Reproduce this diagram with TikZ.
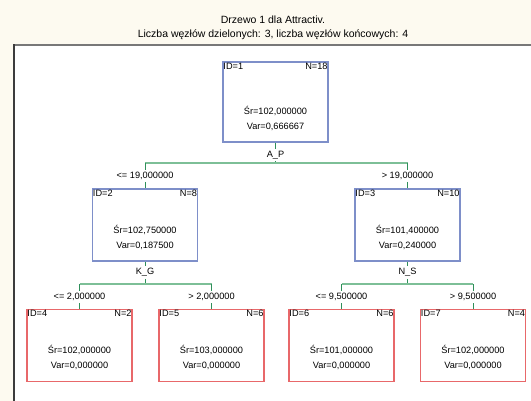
\documentclass[tikz,border=0pt]{standalone}
\usepackage{fontspec}
\setmainfont{Liberation Sans}
\definecolor{bgc}{HTML}{FDFAF0}
\definecolor{splitc}{HTML}{7E8FC9}
\definecolor{leafc}{HTML}{E8686A}
\definecolor{barc}{HTML}{7DBF97}
\definecolor{tickc}{HTML}{2F8F5A}
\newcommand\tnode[9]{%
  \node[#5, minimum height=#4pt] (#1) at (#2,#3) {};
  \node[anchor=north west] (#1id) at ([shift={(1pt,-1.5pt)}]#1.north west) {ID=#6};
  \node[anchor=north east] (#1n) at ([shift={(-1pt,-1.5pt)}]#1.north east) {N=#7};
  \node (#1sr) at ([yshift=32pt]#1.south) {Śr=#8};
  \node (#1var) at ([yshift=16pt]#1.south) {Var=#9};
}
\begin{document}
\begin{tikzpicture}[x=1pt,y=-1pt,
  every node/.style={font=\fontsize{9.2}{10}\selectfont, inner sep=0pt},
  titletext/.style={font=\fontsize{10.5}{12}\selectfont},
  splitbox/.style={draw=splitc, line width=1.5pt, minimum width=105pt},
  leafbox/.style={draw=leafc, line width=1.5pt, minimum width=105pt},
  cond/.style={inner sep=2pt},
  tick/.style={draw=tickc, line width=0.9pt},
  bar/.style={draw=barc, line width=2pt}]
\fill[bgc] (0,0) rectangle (531,401);
\useasboundingbox (0,0) rectangle (531,401);
\fill[white] (14,45) rectangle (531,401);
\draw[line width=1.6pt, draw={rgb,255:red,120;green,120;blue,120}] (14,45) -- (531,45);
\draw[line width=1.8pt, draw={rgb,255:red,60;green,60;blue,60}] (14,401) -- (14,44.2);

\node[titletext] (t1) at (273,19.5) {Drzewo 1 dla Attractiv.};
\node[titletext] (t2) at (273,35) {Liczba węzłów dzielonych: 3, liczba węzłów końcowych: 4};

\tnode{n1}{275.5}{102}{80}{splitbox}{1}{18}{102,000000}{0,666667}
\tnode{n2}{145}{225}{72}{splitbox}{2}{8}{102,750000}{0,187500}
\tnode{n3}{407.5}{225}{72}{splitbox}{3}{10}{101,400000}{0,240000}
\tnode{n4}{79.5}{345.5}{72}{leafbox}{4}{2}{102,000000}{0,000000}
\tnode{n5}{211.5}{345.5}{72}{leafbox}{5}{6}{103,000000}{0,000000}
\tnode{n6}{341.5}{345.5}{72}{leafbox}{6}{6}{101,000000}{0,000000}
\tnode{n7}{473}{345.5}{72}{leafbox}{7}{4}{102,000000}{0,000000}

% split 1
\node[cond] (ap) at (275.5,155) {A\_P};
\coordinate (b1) at (275.5,163);
\coordinate (b1l) at (145,163);
\coordinate (b1r) at (407.5,163);
\node[cond] (c2) at (145,176) {<= 19,000000};
\node[cond] (c3) at (407.5,176) {> 19,000000};
\draw[tick] (n1.south) -- (ap.north);
\draw[tick] (ap.south) -- (b1);
\draw[bar] (b1l) -- (b1r);
\draw[tick] (b1l) -- (c2.north);
\draw[tick] (c2.south) -- (n2.north);
\draw[tick] (b1r) -- (c3.north);
\draw[tick] (c3.south) -- (n3.north);

% split 2
\node[cond] (kg) at (145,272.5) {K\_G};
\coordinate (b2) at (145,284.5);
\coordinate (b2l) at (79.5,284.5);
\coordinate (b2r) at (211.5,284.5);
\node[cond] (c4) at (79.5,297) {<= 2,000000};
\node[cond] (c5) at (211.5,297) {> 2,000000};
\draw[tick] (n2.south) -- (kg.north);
\draw[tick] (kg.south) -- (b2);
\draw[bar] (b2l) -- (b2r);
\draw[tick] (b2l) -- (c4.north);
\draw[tick] (c4.south) -- (n4.north);
\draw[tick] (b2r) -- (c5.north);
\draw[tick] (c5.south) -- (n5.north);

% split 3
\node[cond] (ns) at (407.5,272.5) {N\_S};
\coordinate (b3) at (407.5,284.5);
\coordinate (b3l) at (341.5,284.5);
\coordinate (b3r) at (473,284.5);
\node[cond] (c6) at (341.5,297) {<= 9,500000};
\node[cond] (c7) at (473,297) {> 9,500000};
\draw[tick] (n3.south) -- (ns.north);
\draw[tick] (ns.south) -- (b3);
\draw[bar] (b3l) -- (b3r);
\draw[tick] (b3l) -- (c6.north);
\draw[tick] (c6.south) -- (n6.north);
\draw[tick] (b3r) -- (c7.north);
\draw[tick] (c7.south) -- (n7.north);
\end{tikzpicture}
\end{document}
